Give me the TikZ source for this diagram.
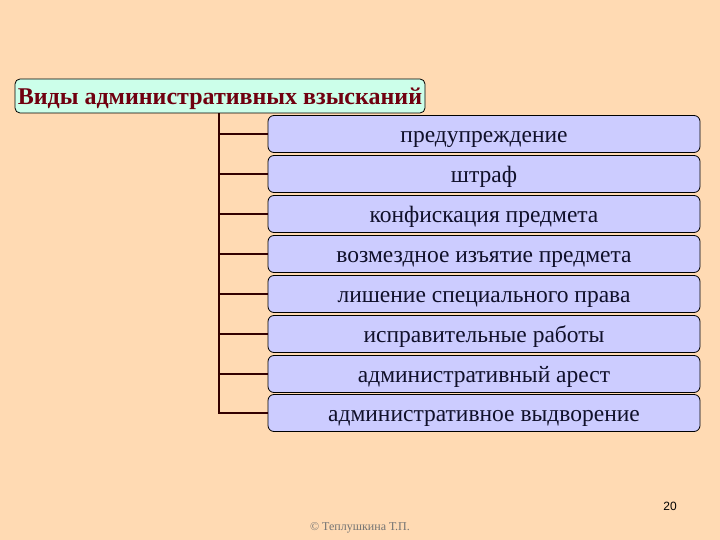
\documentclass[tikz,border=0pt]{standalone}
\usepackage{fontspec}
\setmainfont{Liberation Serif}
\newfontfamily\sansf{Liberation Sans}
\definecolor{bgc}{HTML}{FFDAB3}
\definecolor{hdrfill}{HTML}{CCFFEA}
\definecolor{hdrtext}{HTML}{700010}
\definecolor{boxfill}{HTML}{CCCCFF}
\definecolor{boxtext}{HTML}{10102A}
\begin{document}
\begin{tikzpicture}[x=1pt,y=-1pt,
  hdr/.style={draw=black, line width=0.8pt, fill=hdrfill, rounded corners=5pt, minimum width=410pt, minimum height=34pt, inner sep=0pt, text height=21pt, text depth=4pt, font=\fontsize{24}{28}\selectfont\bfseries, text=hdrtext},
  item/.style={draw=black, line width=0.8pt, fill=boxfill, rounded corners=6pt, minimum width=432pt, minimum height=37pt, inner sep=0pt, text height=21pt, text depth=4pt, font=\fontsize{23.5}{28}\selectfont, text=boxtext},
  link/.style={line width=2pt, draw=black!80!red}]
\fill[bgc] (0,0) rectangle (720,540);
\useasboundingbox (0,0) rectangle (720,540);
\node[hdr] (h) at (220,96) {Виды административных взысканий};
\node[item] (b1) at (484,134) {предупреждение};
\node[item] (b2) at (484,174) {штраф};
\node[item] (b3) at (484,214) {конфискация предмета};
\node[item] (b4) at (484,254) {возмездное изъятие предмета};
\node[item] (b5) at (484,294) {лишение специального права};
\node[item] (b6) at (484,334) {исправительные работы};
\node[item] (b7) at (484,374) {административный арест};
\node[item] (b8) at (484,413) {административное выдворение};
\coordinate (top) at (219,113);
\draw[link] (h.south -| top) -- (219,413) -- (b8.west);
\foreach \i in {1,...,7} { \draw[link] (b\i.west) -- (b\i.west -| top); }
\node[font=\sansf\fontsize{12}{14}\selectfont] (pg) at (670,506) {20};
\node[font=\fontsize{12}{14}\selectfont, text=black!55] (cp) at (360,528) {© Теплушкина Т.П.};
\end{tikzpicture}
\end{document}
